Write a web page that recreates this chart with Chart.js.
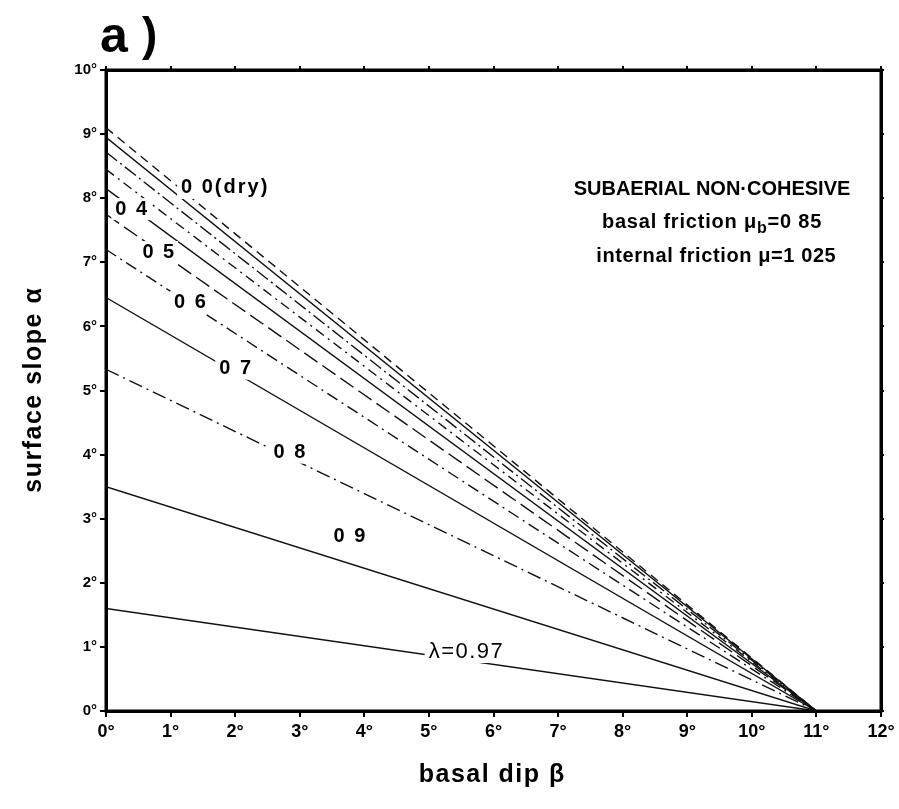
<!DOCTYPE html>
<html>
<head>
<meta charset="utf-8">
<script src="https://cdn.jsdelivr.net/npm/chart.js@4.4.1/dist/chart.umd.min.js"></script>
<style>
    html, body { margin: 0; padding: 0; background: #fff; }
    #wrap { width: 899px; height: 809px; }
</style>
</head>
<body>
<div id="wrap"><canvas id="slope-chart" width="899" height="809"></canvas></div>
<script>
// pore fluid pressure ratio for each curve, and surface slope (deg) at zero basal dip
var lambdas = ['0.0', '0.1', '0.2', '0.3', '0.4', '0.5', '0.6', '0.7', '0.8', '0.9', '0.97'];
var slopeAtZeroDip = [9.1, 8.95, 8.72, 8.45, 8.15, 7.75, 7.2, 6.45, 5.33, 3.5, 1.6];
// all curves meet the basal dip axis here
var criticalDip = 11;
var xTicks = [0, 1, 2, 3, 4, 5, 6, 7, 8, 9, 10, 11, 12];
var yTicks = [0, 1, 2, 3, 4, 5, 6, 7, 8, 9, 10];
var curveLabels = ['0 0(dry)', '', '', '', '0 4', '0 5', '0 6', '0 7', '0 8', '0 9', '\u03bb=0.97'];

var dashes = [[9, 6], [], [14, 4, 2, 4], [10, 5, 2, 5], [], [16, 6], [12, 5, 2, 5], [], [14, 5, 2, 5], [], []];
// where each curve label sits, in (beta, alpha)
var labelAt = [[1.83, 8.16], null, null, null, [0.39, 7.83], [0.81, 7.16], [1.30, 6.38],
               [2.0, 5.34], [2.84, 4.03], [3.77, 2.72], [5.57, 0.92]];

var FONT = '"Liberation Sans", Arial, sans-serif';
var NARROW = '"Liberation Sans Narrow", "Liberation Sans", Arial, sans-serif';

var datasets = [];
for (var i = 0; i < lambdas.length; i++) {
    datasets.push({
        label: lambdas[i],
        data: [{x: 0, y: slopeAtZeroDip[i]}, {x: criticalDip, y: 0}],
        borderColor: '#111',
        borderWidth: 1.4,
        borderDash: dashes[i],
        pointRadius: 0,
        fill: false
    });
}

// text drawn with letter spacing, centred on x
function spaced(ctx, text, x, y, gap) {
    ctx.letterSpacing = gap + 'px';
    var w = ctx.measureText(text).width - gap;
    ctx.textAlign = 'left';
    ctx.fillText(text, x - w / 2, y);
    ctx.letterSpacing = '0px';
    return w;
}

var decorations = {
    id: 'decorations',
    afterDatasetsDraw: function(chart) {
        var ctx = chart.ctx;
        var xs = chart.scales.x, ys = chart.scales.y;
        var area = chart.chartArea;
        ctx.save();
        // curve labels, breaking the lines behind them
        ctx.textBaseline = 'middle';
        for (var i = 0; i < curveLabels.length; i++) {
            if (!curveLabels[i]) continue;
            var px = xs.getPixelForValue(labelAt[i][0]);
            var py = ys.getPixelForValue(labelAt[i][1]);
            var last = i == curveLabels.length - 1;
            ctx.font = last ? '22px ' + FONT : 'bold 20px ' + FONT;
            var gap = last ? 1.5 : 2;
            ctx.letterSpacing = gap + 'px';
            var w = ctx.measureText(curveLabels[i]).width - gap;
            ctx.letterSpacing = '0px';
            ctx.fillStyle = '#fff';
            ctx.fillRect(px - w / 2 - 4, py - 11, w + 8, 22);
            ctx.fillStyle = '#000';
            spaced(ctx, curveLabels[i], px, py, gap);
        }

        // frame
        ctx.strokeStyle = '#000';
        ctx.lineWidth = 3;
        ctx.strokeRect(area.left, area.top, area.right - area.left, area.bottom - area.top);

        // panel letter
        ctx.textBaseline = 'alphabetic';
        ctx.textAlign = 'left';
        ctx.font = 'bold 50px ' + FONT;
        ctx.fillText('a', area.left - 6, 52);
        ctx.font = 'bold 46px ' + FONT;
        ctx.fillText(')', area.left + 36, 50);

        // box text
        ctx.textBaseline = 'middle';
        ctx.font = 'bold 20px ' + FONT;
        spaced(ctx, 'SUBAERIAL NON\u00b7COHESIVE', 712, 189, 0);

        ctx.font = 'bold 20px ' + FONT;
        ctx.letterSpacing = '0.8px';
        var t1 = 'basal friction \u03bc', t2 = '=0 85';
        var w1 = ctx.measureText(t1).width;
        var w2 = ctx.measureText(t2).width;
        ctx.font = 'bold 16px ' + FONT;
        var wb = ctx.measureText('b').width;
        var sx = 712 - (w1 + wb + w2) / 2;
        ctx.font = 'bold 20px ' + FONT;
        ctx.textAlign = 'left';
        ctx.fillText(t1, sx, 222);
        ctx.font = 'bold 16px ' + FONT;
        ctx.fillText('b', sx + w1, 229);
        ctx.font = 'bold 20px ' + FONT;
        ctx.fillText(t2, sx + w1 + wb, 222);
        ctx.letterSpacing = '0px';
        spaced(ctx, 'internal friction \u03bc=1 025', 716, 256, 0.6);

        // axis titles
        ctx.font = 'bold 25px ' + FONT;
        spaced(ctx, 'basal dip \u03b2', (area.left + area.right) / 2 - 2, 775, 1.5);
        ctx.translate(34, (area.top + area.bottom) / 2);
        ctx.rotate(-Math.PI / 2);
        spaced(ctx, 'surface slope \u03b1', 0, 0, 1.5);
        ctx.restore();
    }
};

var degree = function(v) { return v + '\u00b0'; };

var ctx = document.getElementById('slope-chart').getContext('2d');
var slopeChart = new Chart(ctx, {
    type: 'line',
    data: { datasets: datasets },
    options: {
        responsive: false,
        animation: false,
        layout: { padding: 0 },
        plugins: {
            legend: { display: false },
            tooltip: { enabled: false }
        },
        scales: {
            x: {
                type: 'linear', position: 'bottom', min: 0, max: 12,
                afterFit: function(s) { s.height = 98; },
                afterBuildTicks: function(s) { s.ticks = xTicks.map(function(v) { return {value: v}; }); },
                ticks: { callback: degree, color: '#000', padding: 4,
                         font: { family: NARROW, size: 18, weight: 'bold' }, maxRotation: 0 },
                grid: { drawOnChartArea: false, tickLength: 6, color: '#000', lineWidth: 2 },
                border: { color: '#000', width: 3 }
            },
            x2: {
                type: 'linear', position: 'top', min: 0, max: 12,
                afterFit: function(s) { s.height = 70; },
                afterBuildTicks: function(s) { s.ticks = xTicks.map(function(v) { return {value: v}; }); },
                ticks: { display: false },
                grid: { drawOnChartArea: false, tickLength: 4, color: '#000', lineWidth: 2 },
                border: { color: '#000', width: 3 }
            },
            y: {
                type: 'linear', position: 'left', min: 0, max: 10,
                afterFit: function(s) { s.width = 106; },
                afterBuildTicks: function(s) { s.ticks = yTicks.map(function(v) { return {value: v}; }); },
                ticks: { callback: degree, color: '#000', padding: 3,
                         font: { family: FONT, size: 15, weight: 'bold' } },
                grid: { drawOnChartArea: false, tickLength: 6, color: '#000', lineWidth: 2 },
                border: { color: '#000', width: 3 }
            },
            y2: {
                type: 'linear', position: 'right', min: 0, max: 10,
                afterFit: function(s) { s.width = 18; },
                afterBuildTicks: function(s) { s.ticks = yTicks.map(function(v) { return {value: v}; }); },
                ticks: { display: false },
                grid: { drawOnChartArea: false, tickLength: 3, color: '#000', lineWidth: 2 },
                border: { color: '#000', width: 3 }
            }
        }
    },
    plugins: [decorations]
});
</script>
</body>
</html>
